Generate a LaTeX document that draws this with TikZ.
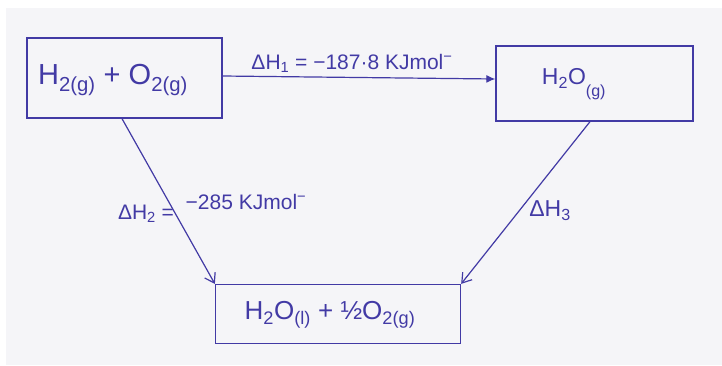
\documentclass[tikz,border=0pt]{standalone}
\usepackage{fontspec}
\setmainfont{Liberation Sans}
\usetikzlibrary{arrows.meta, positioning}
\definecolor{ink}{RGB}{66,58,165}
\definecolor{paper}{RGB}{245,245,248}

\begin{document}
\begin{tikzpicture}[
    x=1pt, y=-1pt,
    box/.style={draw=ink, line width=1.3pt, text=ink, inner sep=0pt},
    link/.style={draw=ink, line width=1.2pt},
    lbl/.style={text=ink, inner sep=1pt}
]
    \useasboundingbox (0,0) rectangle (722,365);
    \fill[white] (0,0) rectangle (722,365);
    \fill[paper] (6,8) rectangle (722,365);

    \node[box, minimum width=195pt, minimum height=80pt] (reac) at (124.5,78) {};
    \node[box, minimum width=197pt, minimum height=75pt] (gas) at (594.5,83.5) {};
    \node[box, minimum width=245pt, minimum height=59pt] (liq) at (338,314) {};

    % contents of the boxes
    \node[lbl] (reactxt) at (113,80)
        {\fontsize{29}{33}\selectfont H\textsubscript{2(g)} + O\textsubscript{2(g)}};
    \node[lbl] (gastxt) at (574,84)
        {\fontsize{23}{27}\selectfont H\textsubscript{2}O\raisebox{-8pt}{\textsubscript{(g)}}};
    \node[lbl] (liqtxt) at (330,315)
        {\fontsize{26}{30}\selectfont H\textsubscript{2}O\textsubscript{(l)} + ½O\textsubscript{2(g)}};

    \draw[link, -{Latex[length=9pt, width=8pt]}] ([yshift=2pt]reac.east) -- ([yshift=4.5pt]gas.west);
    \draw[link, -{Straight Barb[length=9pt, width=12pt]}] ([xshift=-2.5pt]reac.south) -- (liq.north west);
    \draw[link, -{Straight Barb[length=9pt, width=12pt]}] ([xshift=-4.5pt]gas.south) -- (liq.north east);

    \node[lbl] (dH1) at (352,63)
        {\fontsize{21}{25}\selectfont ΔH\textsubscript{1} = −187·8 KJmol\textsuperscript{−}};
    \node[lbl] (dH2) at (146,214)
        {\fontsize{21}{25}\selectfont ΔH\textsubscript{2} =};
    \node[lbl] (dH2val) at (246,202)
        {\fontsize{21}{25}\selectfont −285 KJmol\textsuperscript{−}};
    \node[lbl] (dH3) at (550,211)
        {\fontsize{23}{27}\selectfont ΔH\textsubscript{3}};
\end{tikzpicture}
\end{document}
